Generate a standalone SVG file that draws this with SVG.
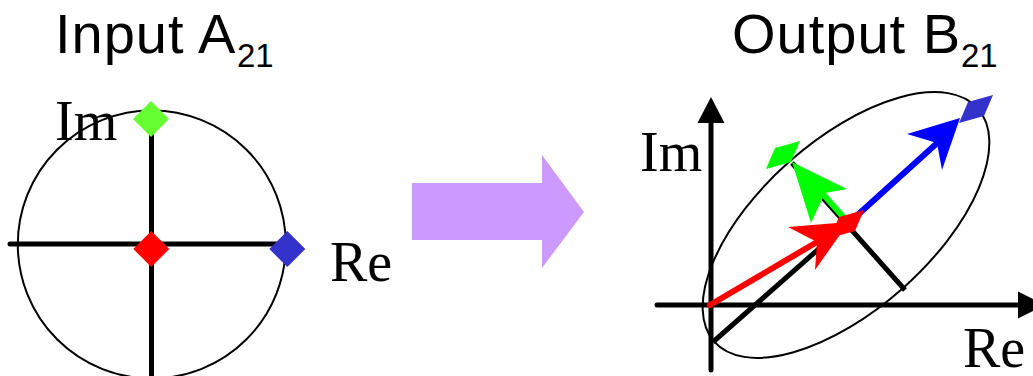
<svg xmlns="http://www.w3.org/2000/svg" width="1033" height="376" viewBox="0 0 1033 376">
<style>
.title{font-family:"Liberation Sans",Arial,sans-serif;font-size:56px;fill:#000;letter-spacing:1px}
.sub{font-size:33px;letter-spacing:0}
.lbl{font-family:"Liberation Serif","Times New Roman",serif;font-size:56px;fill:#000}
.axis{stroke:#000;stroke-width:5;stroke-linecap:round;fill:none}
.thin{stroke:#000;stroke-width:2;fill:none}
.vec{stroke-width:6;stroke-linecap:round;fill:none}
</style>
<defs>
<polygon id="dia" points="0,-18 18,0 0,18 -18,0"/>
<polygon id="pdia" points="-17,14 -8,-7 17,-14 8,7"/>
</defs>
<rect width="1033" height="376" fill="#fff"/>

<g id="input-title"><text class="title" x="55" y="53">Input A<tspan class="sub" x="237" y="67">21</tspan></text></g>
<g id="output-title"><text class="title" x="732" y="53">Output B<tspan class="sub" x="961" y="67">21</tspan></text></g>

<g id="input-plane">
<circle class="thin" cx="151.8" cy="244.5" r="134"/>
<line class="axis" x1="10" y1="244" x2="285" y2="244"/>
<line class="axis" x1="151.5" y1="118" x2="151.5" y2="380"/>
<text class="lbl" x="55" y="140">Im</text>
<text class="lbl" x="330" y="281">Re</text>
</g>
<g id="input-green"><use href="#dia" x="151" y="119" fill="#66ff33"/></g>
<g id="input-red"><use href="#dia" x="151.3" y="249" fill="#ff0000"/></g>
<g id="input-blue"><use href="#dia" x="287.3" y="249" fill="#3333cc"/></g>

<g id="transform-arrow"><polygon points="412,183 542,183 542,155 584,212 542,268 542,240 412,240" fill="#cc99ff"/></g>

<g id="output-plane">
<line class="axis" x1="711" y1="115" x2="711" y2="370"/>
<polygon points="711,97 697.5,123 724.5,123" fill="#000"/>
<line class="axis" x1="657" y1="305" x2="1025" y2="305"/>
<polygon points="1045,305 1018,291.5 1018,318.5" fill="#000"/>
<ellipse class="thin" cx="846" cy="225" rx="176" ry="85" transform="rotate(-41.5 846 225)"/>
<text class="lbl" x="640" y="171">Im</text>
<text class="lbl" x="963" y="367">Re</text>
</g>

<g id="connectors">
<line stroke="#000" stroke-width="5" x1="713" y1="342" x2="847" y2="224"/>
<line stroke="#000" stroke-width="5" x1="792" y1="163" x2="905" y2="290"/>
<line class="vec" stroke="#00ff00" x1="845" y1="219" x2="822" y2="193"/>
<polygon points="792,162 847,189 825,193 811,223" fill="#00ff00"/>
<line class="vec" stroke="#0000ff" x1="852" y1="220" x2="935" y2="145"/>
<polygon points="960,118 942,170 937,143 907,134" fill="#0000ff"/>
<line class="vec" stroke="#ff0000" x1="710" y1="305" x2="817" y2="242"/>
<polygon points="849,222 815,270 817,242 788,227" fill="#ff0000"/>
</g>

<g id="output-green"><use href="#pdia" x="783" y="155" fill="#00ff00"/></g>
<g id="output-red"><use href="#pdia" x="847" y="224" fill="#ff0000"/></g>
<g id="output-blue"><use href="#pdia" x="976" y="109" fill="#3333cc"/></g>
</svg>
